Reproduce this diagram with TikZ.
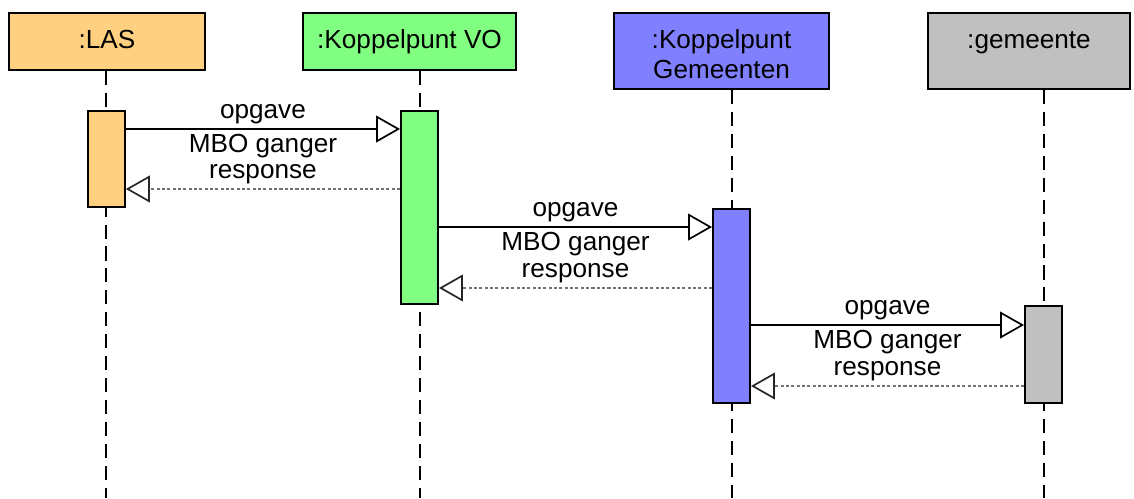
\documentclass[tikz,border=0pt]{standalone}
\usepackage{fontspec}
\setmainfont{Liberation Sans}
\usetikzlibrary{arrows.meta,backgrounds}
\definecolor{lasfill}{RGB}{255,208,128}
\definecolor{vofill}{RGB}{128,255,128}
\definecolor{gmfill}{RGB}{128,128,255}
\definecolor{gemfill}{RGB}{192,192,192}
\begin{document}
\begin{tikzpicture}[font=\fontsize{9.3}{10.4}\selectfont]
\tikzstyle{head}=[draw, line width=0.7pt, rectangle, inner sep=0pt, minimum height=0.7125cm]
\tikzstyle{headtext}=[anchor=north, align=center, inner sep=0pt, yshift=-5.6pt]
\tikzstyle{lifeline}=[draw, line width=0.7pt, dash pattern=on 5pt off 2.8pt]
\tikzstyle{bar}=[draw, line width=0.7pt, rectangle, inner sep=0pt, minimum width=0.4625cm]
\tikzstyle{call}=[draw, line width=0.55pt, -{Triangle[open, length=8.5pt, width=9.5pt, line width=0.6pt]}]
\tikzstyle{reply}=[draw=black!55, line width=0.45pt, dash pattern=on 1.1pt off 0.8pt, -{Triangle[open, length=8.5pt, width=9.5pt, color=black!85, line width=0.6pt]}]
\tikzstyle{upper}=[anchor=base, inner sep=0pt, yshift=0.13cm]
\tikzstyle{lower}=[anchor=base, inner sep=0pt, yshift=-0.2875cm]

\useasboundingbox (0,0) rectangle (14.175,-6.225);
\coordinate (bottom) at (0,-6.225);

% Heads
\node[head, fill=lasfill, minimum width=2.45cm] (las) at (1.3375,-0.519) {};
\node[headtext] (lastxt) at (las.north) {:LAS\strut};
\node[head, fill=vofill, minimum width=2.6625cm] (vo) at (5.119,-0.519) {};
\node[headtext] (votxt) at (vo.north) {:Koppelpunt VO\strut};
\node[head, fill=gmfill, minimum width=2.6875cm, minimum height=0.95cm] (kg) at (9.019,-0.6375) {};
\node[headtext] (kgtxt) at (kg.north) {:Koppelpunt\strut\\Gemeenten};
\node[head, fill=gemfill, minimum width=2.525cm, minimum height=0.95cm] (gem) at (12.8625,-0.6375) {};
\node[headtext] (gemtxt) at (gem.north) {:gemeente\strut};

% Activation bars
\node[bar, fill=lasfill, minimum height=1.2cm] (las1) at (1.33,-1.9875) {};
\node[bar, fill=vofill, minimum height=2.4125cm] (vo1) at (5.244,-2.59375) {};
\node[bar, fill=gmfill, minimum height=2.425cm] (kg1) at (9.144,-3.825) {};
\node[bar, fill=gemfill, minimum height=1.2125cm] (gem1) at (13.044,-4.43125) {};

% Lifelines
\begin{scope}[on background layer]
\draw[lifeline] (las.south -| las1) -- (las1 |- bottom);
\draw[lifeline] (vo.south -| vo1) -- (vo1 |- bottom);
\draw[lifeline] (kg.south -| kg1) -- (kg1 |- bottom);
\draw[lifeline] (gem.south -| gem1) -- (gem1 |- bottom);
\end{scope}

% Messages
\coordinate (m1) at ([yshift=-0.2375cm]las1.north east);
\coordinate (r1) at ([yshift=0.2375cm]las1.south east);
\draw[call] (m1) -- node[upper] {opgave} node[lower] {MBO ganger} (vo1.west |- m1);
\draw[reply] (vo1.west |- r1) -- node[upper] {response} (r1);

\coordinate (m2) at ([yshift=-0.2375cm]kg1.north west);
\coordinate (r2) at ([yshift=0.2125cm]vo1.south east);
\draw[call] (vo1.east |- m2) -- node[upper] {opgave} node[lower] {MBO ganger} (m2);
\draw[reply] (kg1.west |- r2) -- node[upper] {response} (r2);

\coordinate (m3) at ([yshift=-0.25cm]gem1.north west);
\coordinate (r3) at ([yshift=0.225cm]kg1.south east);
\draw[call] (kg1.east |- m3) -- node[upper] {opgave} node[lower] {MBO ganger} (m3);
\draw[reply] (gem1.west |- r3) -- node[upper] {response} (r3);
\end{tikzpicture}
\end{document}
